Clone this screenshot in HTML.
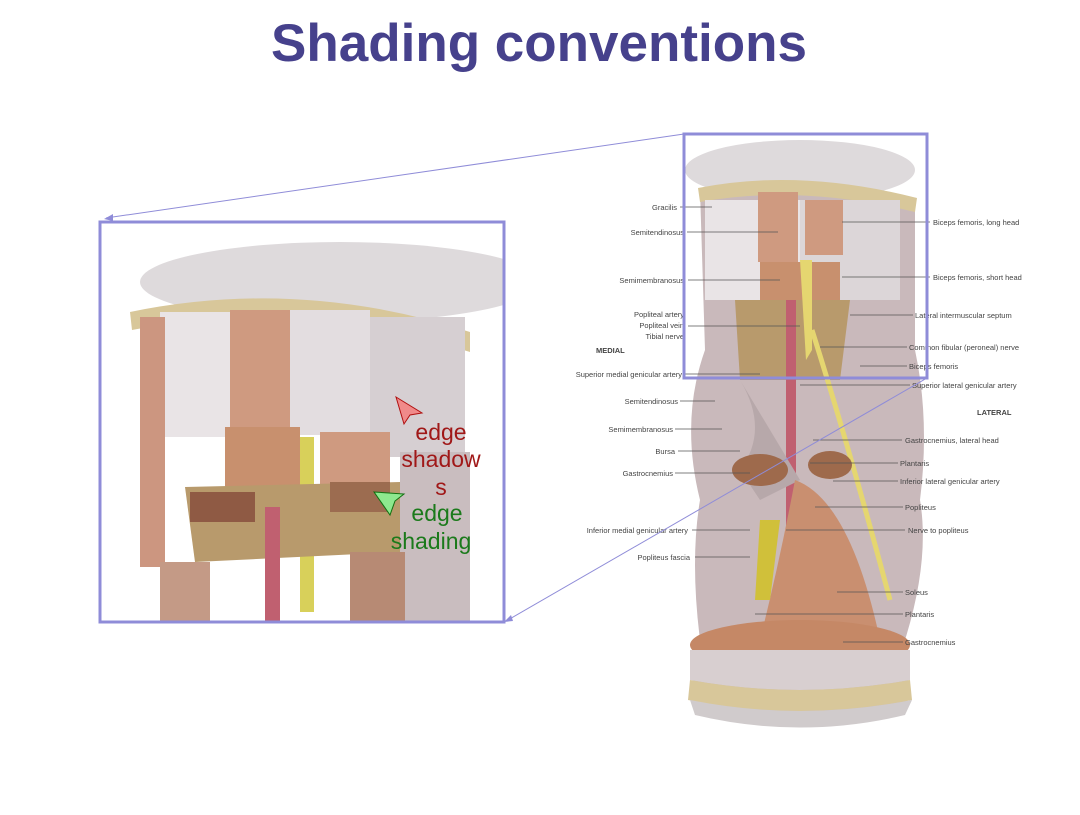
<!DOCTYPE html>
<html><head><meta charset="utf-8"><style>
body{margin:0;width:1080px;height:810px;background:#fff;overflow:hidden;font-family:"Liberation Sans",sans-serif}
</style></head><body>
<svg width="1080" height="810" viewBox="0 0 1080 810" xmlns="http://www.w3.org/2000/svg" font-family="Liberation Sans, sans-serif">
<text x="539" y="61" text-anchor="middle" font-size="53" font-weight="bold" fill="#46418c">Shading conventions</text>

<!-- RIGHT ILLUSTRATION -->
<g>
<ellipse cx="800" cy="170" rx="115" ry="30" fill="#dedadc"/>
<path d="M700,190 Q800,170 915,200 L915,350 Q930,420 920,500 Q930,560 905,640 L910,700 Q800,740 690,700 L700,640 Q690,560 700,500 Q680,420 705,350 Z" fill="#c9b9bb"/>
<path d="M698,188 Q800,168 917,198 L915,212 Q800,184 700,202 Z" fill="#d8c79a"/>
<rect x="705" y="200" width="95" height="100" fill="#e9e4e6"/>
<rect x="800" y="200" width="100" height="100" fill="#dcd6d8"/>
<rect x="758" y="192" width="40" height="70" fill="#cf9a80"/>
<rect x="805" y="200" width="38" height="55" fill="#cf9a80"/>
<rect x="760" y="262" width="80" height="40" fill="#c8906e"/>
<path d="M735,300 L850,300 L840,380 L740,380 Z" fill="#b89a6c"/>
<rect x="786" y="300" width="10" height="230" fill="#c06070"/>
<path d="M800,260 L812,260 L812,350 L806,360 Z" fill="#e5d670"/>
<path d="M812,330 Q850,450 890,600" stroke="#e5d670" stroke-width="5" fill="none"/>
<path d="M740,380 Q770,430 740,470 L760,500 L800,480 Z" fill="#b7a8aa"/>
<ellipse cx="760" cy="470" rx="28" ry="16" fill="#9e6a4c"/>
<ellipse cx="830" cy="465" rx="22" ry="14" fill="#9e6a4c"/>
<path d="M795,480 Q850,500 880,640 L760,640 Q780,560 795,480Z" fill="#c98f70"/>
<path d="M760,520 L780,520 L770,600 L755,600Z" fill="#d0c03a"/>
<ellipse cx="800" cy="645" rx="110" ry="25" fill="#c58866"/>
<path d="M690,650 L910,650 L910,680 Q800,700 690,680Z" fill="#d8cfd0"/>
<path d="M690,680 Q800,700 910,680 L912,700 Q800,722 688,700Z" fill="#d8c79a"/>
<path d="M690,700 Q800,722 912,700 L905,715 Q800,740 695,715Z" fill="#d0cbcc"/>
</g>
<g stroke="#555" stroke-width="0.8">
<line x1="680" y1="207" x2="712" y2="207"/><line x1="687" y1="232" x2="778" y2="232"/>
<line x1="688" y1="280" x2="780" y2="280"/><line x1="688" y1="326" x2="800" y2="326"/>
<line x1="685" y1="374" x2="760" y2="374"/><line x1="680" y1="401" x2="715" y2="401"/>
<line x1="675" y1="429" x2="722" y2="429"/><line x1="678" y1="451" x2="740" y2="451"/>
<line x1="675" y1="473" x2="750" y2="473"/><line x1="692" y1="530" x2="750" y2="530"/>
<line x1="695" y1="557" x2="750" y2="557"/>
<line x1="842" y1="222" x2="930" y2="222"/><line x1="842" y1="277" x2="930" y2="277"/>
<line x1="850" y1="315" x2="913" y2="315"/><line x1="820" y1="347" x2="907" y2="347"/>
<line x1="860" y1="366" x2="907" y2="366"/><line x1="800" y1="385" x2="910" y2="385"/>
<line x1="813" y1="440" x2="902" y2="440"/><line x1="810" y1="463" x2="898" y2="463"/>
<line x1="833" y1="481" x2="898" y2="481"/><line x1="815" y1="507" x2="903" y2="507"/>
<line x1="786" y1="530" x2="905" y2="530"/><line x1="837" y1="592" x2="903" y2="592"/>
<line x1="755" y1="614" x2="903" y2="614"/><line x1="843" y1="642" x2="903" y2="642"/>
</g>
<g font-size="7.5" fill="#444">
<text x="677" y="210" text-anchor="end">Gracilis</text>
<text x="684" y="235" text-anchor="end">Semitendinosus</text>
<text x="684" y="283" text-anchor="end">Semimembranosus</text>
<text x="684" y="317" text-anchor="end">Popliteal artery</text>
<text x="684" y="328" text-anchor="end">Popliteal vein</text>
<text x="684" y="339" text-anchor="end">Tibial nerve</text>
<text x="596" y="353" font-weight="bold">MEDIAL</text>
<text x="682" y="377" text-anchor="end">Superior medial genicular artery</text>
<text x="678" y="404" text-anchor="end">Semitendinosus</text>
<text x="673" y="432" text-anchor="end">Semimembranosus</text>
<text x="675" y="454" text-anchor="end">Bursa</text>
<text x="673" y="476" text-anchor="end">Gastrocnemius</text>
<text x="688" y="533" text-anchor="end">Inferior medial genicular artery</text>
<text x="690" y="560" text-anchor="end">Popliteus fascia</text>
<text x="933" y="225">Biceps femoris, long head</text>
<text x="933" y="280">Biceps femoris, short head</text>
<text x="915" y="318">Lateral intermuscular septum</text>
<text x="909" y="350">Common fibular (peroneal) nerve</text>
<text x="909" y="369">Biceps femoris</text>
<text x="912" y="388">Superior lateral genicular artery</text>
<text x="977" y="415" font-weight="bold">LATERAL</text>
<text x="905" y="443">Gastrocnemius, lateral head</text>
<text x="900" y="466">Plantaris</text>
<text x="900" y="484">Inferior lateral genicular artery</text>
<text x="905" y="510">Popliteus</text>
<text x="908" y="533">Nerve to popliteus</text>
<text x="905" y="595">Soleus</text>
<text x="905" y="617">Plantaris</text>
<text x="905" y="645">Gastrocnemius</text>
</g>
<rect x="684" y="134" width="243" height="244" fill="none" stroke="#8f8cd8" stroke-width="3"/>

<!-- LEFT ZOOM -->
<svg x="100" y="222" width="404" height="400" viewBox="0 0 404 400">
<rect width="404" height="400" fill="#fff"/>
<ellipse cx="240" cy="60" rx="200" ry="40" fill="#dedadc"/>
<path d="M30,90 Q200,55 370,110 L370,130 Q200,75 32,108Z" fill="#d8c79a"/>
<rect x="60" y="90" width="70" height="125" fill="#e9e4e6"/>
<rect x="130" y="88" width="60" height="120" fill="#cf9a80"/>
<rect x="190" y="88" width="80" height="125" fill="#e3dde0"/>
<rect x="270" y="95" width="95" height="140" fill="#d6cfd2"/>
<rect x="40" y="95" width="25" height="250" fill="#cc9680"/>
<rect x="125" y="205" width="75" height="60" fill="#c8906e"/>
<rect x="220" y="210" width="70" height="60" fill="#cf9a80"/>
<rect x="200" y="215" width="14" height="175" fill="#d8d05a"/>
<path d="M85,265 L300,260 L300,330 L95,340Z" fill="#b89a6c"/>
<rect x="90" y="270" width="65" height="30" fill="#8f5a44"/>
<rect x="230" y="260" width="60" height="30" fill="#9c6c50"/>
<rect x="165" y="285" width="15" height="115" fill="#c06070"/>
<rect x="300" y="230" width="70" height="170" fill="#c9bdbf"/>
<rect x="60" y="340" width="50" height="60" fill="#c49a86"/>
<rect x="250" y="330" width="55" height="70" fill="#b78a74"/>
</svg>
<rect x="100" y="222" width="404" height="400" fill="none" stroke="#8f8cd8" stroke-width="3"/>
<line x1="684" y1="134" x2="106" y2="218" stroke="#8f8cd8" stroke-width="1"/>
<polygon points="104,219 113,214 113,221" fill="#8f8cd8"/>
<line x1="927" y1="378" x2="508" y2="620" stroke="#8f8cd8" stroke-width="1"/>
<polygon points="504,622 511,615 513,621" fill="#8ee88e" style="fill:#8f8cd8"/>

<polygon points="396,397 422,413 410,415 404,424" fill="#f08a8a" stroke="#b01010" stroke-width="1"/>
<polygon points="374,492 404,494 395,501 390,515" fill="#8ee88e" stroke="#107010" stroke-width="1"/>
<g font-size="23" fill="#a01818" text-anchor="middle">
<text x="441" y="440">edge</text><text x="441" y="467">shadow</text><text x="441" y="495">s</text>
</g>
<g font-size="23" fill="#1b7a1b" text-anchor="middle">
<text x="437" y="521">edge</text><text x="431" y="549">shading</text>
</g>
</svg>
</body></html>
